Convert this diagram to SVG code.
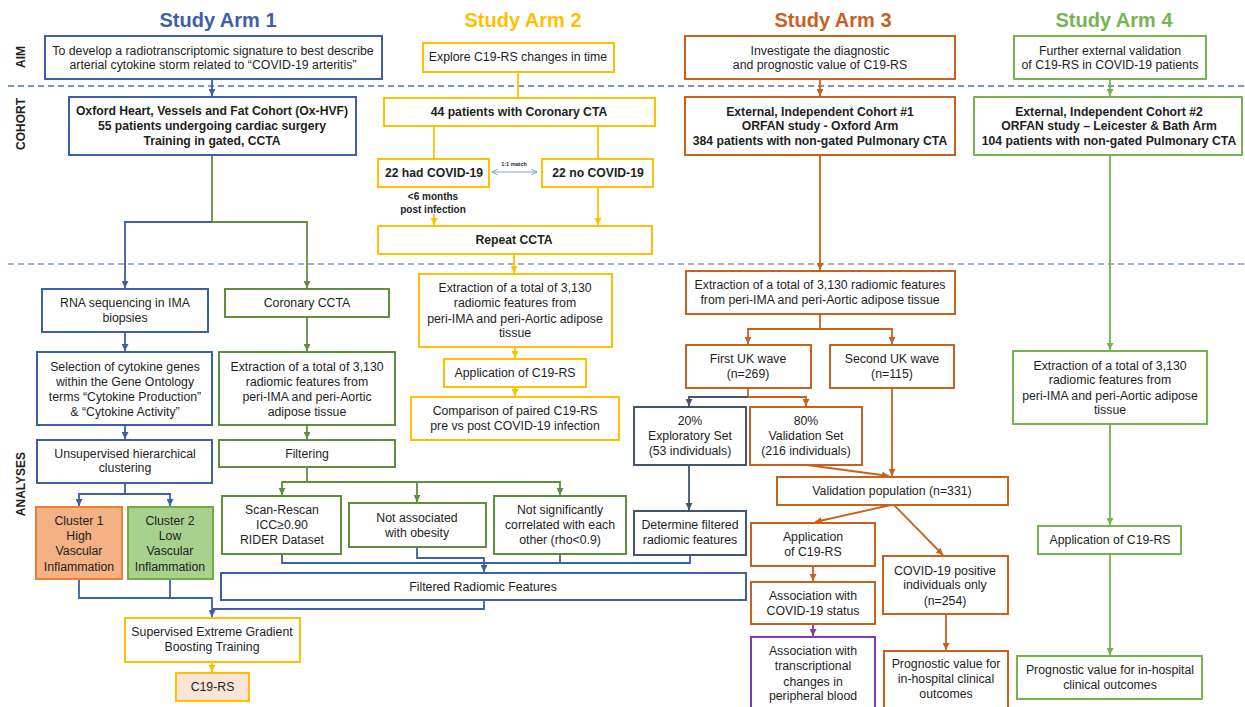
<svg xmlns="http://www.w3.org/2000/svg" width="1245" height="707" viewBox="0 0 1245 707">
<style>
.bx{fill:#fff;stroke-width:2}
.cb{stroke:#3D5FA6}.cg{stroke:#5E8E3E}.cy{stroke:#FFC000}.co{stroke:#C8611E}.cs{stroke:#44546A}.cp{stroke:#7B3FB0}.cl{stroke:#76B451}
.t{font-family:"Liberation Sans",Arial,Helvetica,sans-serif;font-size:12.3px;fill:#1e1e1e;text-anchor:middle}
.tb{font-family:"Liberation Sans",Arial,Helvetica,sans-serif;font-size:12.2px;font-weight:bold;fill:#1e1e1e;text-anchor:middle}
.ti{font-family:"Liberation Sans",Arial,Helvetica,sans-serif;font-size:20px;font-weight:bold;text-anchor:middle}
.side{font-family:"Liberation Sans",Arial,Helvetica,sans-serif;font-size:12px;font-weight:bold;fill:#1e1e1e;text-anchor:middle}
.ln{fill:none;stroke-width:1.8}
</style>
<defs>
<marker id="mb" markerWidth="7" markerHeight="7" refX="7" refY="3.5" orient="auto" markerUnits="userSpaceOnUse"><path d="M0,0 L7,3.5 L0,7z" fill="#3D5FA6"/></marker>
<marker id="mg" markerWidth="7" markerHeight="7" refX="7" refY="3.5" orient="auto" markerUnits="userSpaceOnUse"><path d="M0,0 L7,3.5 L0,7z" fill="#5E8E3E"/></marker>
<marker id="my" markerWidth="7" markerHeight="7" refX="7" refY="3.5" orient="auto" markerUnits="userSpaceOnUse"><path d="M0,0 L7,3.5 L0,7z" fill="#FFC000"/></marker>
<marker id="mo" markerWidth="7" markerHeight="7" refX="7" refY="3.5" orient="auto" markerUnits="userSpaceOnUse"><path d="M0,0 L7,3.5 L0,7z" fill="#C8611E"/></marker>
<marker id="ms" markerWidth="7" markerHeight="7" refX="7" refY="3.5" orient="auto" markerUnits="userSpaceOnUse"><path d="M0,0 L7,3.5 L0,7z" fill="#44546A"/></marker>
<marker id="mp" markerWidth="7" markerHeight="7" refX="7" refY="3.5" orient="auto" markerUnits="userSpaceOnUse"><path d="M0,0 L7,3.5 L0,7z" fill="#7B3FB0"/></marker>
<marker id="ml" markerWidth="7" markerHeight="7" refX="7" refY="3.5" orient="auto" markerUnits="userSpaceOnUse"><path d="M0,0 L7,3.5 L0,7z" fill="#76B451"/></marker>
<marker id="mm" markerWidth="6" markerHeight="6" refX="6" refY="3" orient="auto-start-reverse" markerUnits="userSpaceOnUse"><path d="M0,0 L6,3 L0,6" fill="none" stroke="#7F9FD8" stroke-width="1"/></marker>
</defs>
<rect width="1245" height="707" fill="#fff"/>

<!-- titles -->
<text class="ti" x="218" y="27" fill="#3D5FA6">Study Arm 1</text>
<text class="ti" x="523" y="27" fill="#FFC000">Study Arm 2</text>
<text class="ti" x="833" y="27" fill="#C8611E">Study Arm 3</text>
<text class="ti" x="1114" y="27" fill="#76B451">Study Arm 4</text>

<!-- separators and side labels -->
<line x1="8" y1="86" x2="1245" y2="86" stroke="#4A72C0" stroke-width="1.3" stroke-dasharray="6 4"/>
<line x1="8" y1="264" x2="1245" y2="264" stroke="#8096C0" stroke-width="1.3" stroke-dasharray="6 4"/>
<text class="side" transform="translate(25,57) rotate(-90)">AIM</text>
<text class="side" transform="translate(25,124) rotate(-90)">COHORT</text>
<text class="side" transform="translate(25,484) rotate(-90)">ANALYSES</text>

<!-- connectors -->
<g id="connectors">
<!-- arm 1 -->
<path class="ln cb" d="M212,79 V96" marker-end="url(#mb)"/>
<path class="ln cg" d="M212,155 V222 H307 V288" marker-end="url(#mg)"/>
<path class="ln cb" d="M212,222 H125 V288" marker-end="url(#mb)"/>
<path class="ln cb" d="M125,332 V351" marker-end="url(#mb)"/>
<path class="ln cg" d="M307,317 V351" marker-end="url(#mg)"/>
<path class="ln cb" d="M125,425 V439" marker-end="url(#mb)"/>
<path class="ln cg" d="M307,425 V439" marker-end="url(#mg)"/>
<path class="ln cb" d="M125,483 V494 H79 V506" marker-end="url(#mb)"/>
<path class="ln cb" d="M125,494 H170 V506" marker-end="url(#mb)"/>
<path class="ln cg" d="M307,467 V482 H282 V495" marker-end="url(#mg)"/>
<path class="ln cg" d="M307,482 H560 V495" marker-end="url(#mg)"/>
<path class="ln cg" d="M417,482 V502" marker-end="url(#mg)"/>
<path class="ln cb" d="M282,554 V563 H690 V555"/>
<path class="ln cb" d="M560,554 V563"/>
<path class="ln cb" d="M417,547 V558 H484 V572" marker-end="url(#mb)"/>
<path class="ln cb" d="M484,600 V609 H212"/>
<path class="ln cb" d="M79,579 V598 H212 V617" marker-end="url(#mb)"/>
<path class="ln cb" d="M170,579 V598"/>
<path class="ln cy" d="M212,662 V672" marker-end="url(#my)"/>
<!-- arm 2 -->
<path class="ln cy" d="M518,72 V98"/>
<path class="ln cy" d="M434,126 V159"/>
<path class="ln cy" d="M598,126 V159"/>
<path class="ln cy" d="M434,214 V225" marker-end="url(#my)"/>
<path class="ln cy" d="M598,187 V225" marker-end="url(#my)"/>
<path d="M492,172 H537" fill="none" stroke="#7F9FD8" stroke-width="1" marker-start="url(#mm)" marker-end="url(#mm)"/>
<path class="ln cy" d="M514,254 V273" marker-end="url(#my)"/>
<path class="ln cy" d="M515,347 V358" marker-end="url(#my)"/>
<path class="ln cy" d="M515,387 V396" marker-end="url(#my)"/>
<!-- arm 3 -->
<path class="ln co" d="M820,79 V96" marker-end="url(#mo)"/>
<path class="ln co" d="M820,155 V270" marker-end="url(#mo)"/>
<path class="ln co" d="M820,314 V329 H748 V344" marker-end="url(#mo)"/>
<path class="ln co" d="M820,329 H892 V344" marker-end="url(#mo)"/>
<path class="ln co" d="M748,388 V397 H806 V406" marker-end="url(#mo)"/>
<path class="ln cs" d="M748,397 H689 V406" marker-end="url(#ms)"/>
<path class="ln co" d="M892,388 V476" marker-end="url(#mo)"/>
<path class="ln co" d="M807,465 L889,476" marker-end="url(#mo)"/>
<path class="ln cs" d="M689,465 V510" marker-end="url(#ms)"/>
<path class="ln co" d="M891,505 L815,522" marker-end="url(#mo)"/>
<path class="ln co" d="M894,505 L943,555" marker-end="url(#mo)"/>
<path class="ln co" d="M813,566 V581" marker-end="url(#mo)"/>
<path class="ln cp" d="M813,624 V636" marker-end="url(#mp)"/>
<path class="ln co" d="M946,614 V650" marker-end="url(#mo)"/>
<!-- arm 4 -->
<path class="ln cl" d="M1110,79 V96" marker-end="url(#ml)"/>
<path class="ln cl" d="M1110,155 V350" marker-end="url(#ml)"/>
<path class="ln cl" d="M1110,424 V525" marker-end="url(#ml)"/>
<path class="ln cl" d="M1110,554 V655" marker-end="url(#ml)"/>
</g>

<!-- Arm 1 nodes -->
<g id="a1-aim"><rect class="bx cb" x="45" y="36" width="337" height="43"/>
<text class="t" x="213" y="55">To develop a radiotranscriptomic signature to best describe</text>
<text class="t" x="213" y="69">arterial cytokine storm related to “COVID-19 arteritis”</text></g>
<g id="a1-cohort"><rect class="bx cb" x="69" y="97" width="287" height="58"/>
<text class="tb" x="212" y="115">Oxford Heart, Vessels and Fat Cohort (Ox-HVF)</text>
<text class="tb" x="212" y="130">55 patients undergoing cardiac surgery</text>
<text class="tb" x="212" y="145">Training in gated, CCTA</text></g>
<g id="a1-rna"><rect class="bx cb" x="42" y="289" width="166" height="43"/>
<text class="t" x="125" y="307">RNA sequencing in IMA</text>
<text class="t" x="125" y="322">biopsies</text></g>
<g id="a1-ccta"><rect class="bx cg" x="225" y="289" width="164" height="28"/>
<text class="t" x="307" y="307">Coronary CCTA</text></g>
<g id="a1-select"><rect class="bx cb" x="37" y="352" width="175" height="73"/>
<text class="t" x="125" y="370.5">Selection of cytokine genes</text>
<text class="t" x="125" y="385.5">within the Gene Ontology</text>
<text class="t" x="125" y="400.5">terms “Cytokine Production”</text>
<text class="t" x="125" y="415.5">&amp; “Cytokine Activity”</text></g>
<g id="a1-extract"><rect class="bx cg" x="219" y="352" width="176" height="73"/>
<text class="t" x="307" y="370.5">Extraction of a total of 3,130</text>
<text class="t" x="307" y="385.5">radiomic features from</text>
<text class="t" x="307" y="400.5">peri-IMA and peri-Aortic</text>
<text class="t" x="307" y="415.5">adipose tissue</text></g>
<g id="a1-unsup"><rect class="bx cb" x="37" y="440" width="175" height="43"/>
<text class="t" x="125" y="458">Unsupervised hierarchical</text>
<text class="t" x="125" y="472">clustering</text></g>
<g id="a1-filter"><rect class="bx cg" x="219" y="440" width="176" height="27"/>
<text class="t" x="307" y="458">Filtering</text></g>
<g id="a1-cl1"><rect x="36" y="507" width="86" height="72" fill="#F4B183" stroke="#ED7D31" stroke-width="2"/>
<text class="t" x="79" y="525">Cluster 1</text>
<text class="t" x="79" y="539.5">High</text>
<text class="t" x="79" y="555">Vascular</text>
<text class="t" x="79" y="570.5">Inflammation</text></g>
<g id="a1-cl2"><rect x="128" y="507" width="85" height="72" fill="#A9D18E" stroke="#70AD47" stroke-width="2"/>
<text class="t" x="170" y="525">Cluster 2</text>
<text class="t" x="170" y="539.5">Low</text>
<text class="t" x="170" y="555">Vascular</text>
<text class="t" x="170" y="570.5">Inflammation</text></g>
<g id="a1-scan"><rect class="bx cg" x="222" y="496" width="119" height="58"/>
<text class="t" x="282" y="514">Scan-Rescan</text>
<text class="t" x="282" y="529">ICC≥0.90</text>
<text class="t" x="282" y="544">RIDER Dataset</text></g>
<g id="a1-obes"><rect class="bx cg" x="349" y="503" width="137" height="44"/>
<text class="t" x="417" y="521.5">Not associated</text>
<text class="t" x="417" y="536.5">with obesity</text></g>
<g id="a1-corr"><rect class="bx cg" x="494" y="496" width="132" height="58"/>
<text class="t" x="560" y="514">Not significantly</text>
<text class="t" x="560" y="529">correlated with each</text>
<text class="t" x="560" y="544">other (rho&lt;0.9)</text></g>
<g id="a1-filtered"><rect class="bx cb" x="221" y="573" width="525" height="27"/>
<text class="t" x="483" y="590.5">Filtered Radiomic Features</text></g>
<g id="a1-xgb"><rect class="bx cy" x="125" y="618" width="175" height="44"/>
<text class="t" x="212" y="636">Supervised Extreme Gradient</text>
<text class="t" x="212" y="651">Boosting Training</text></g>
<g id="a1-c19rs"><rect x="176" y="673" width="73" height="28" fill="#FBE5D6" stroke="#FFC000" stroke-width="2"/>
<text class="t" x="212.5" y="691">C19-RS</text></g>

<!-- Arm 2 nodes -->
<g id="a2-aim"><rect class="bx cy" x="423" y="43" width="191" height="29"/>
<text class="t" x="518" y="61">Explore C19-RS changes in time</text></g>
<g id="a2-44"><rect class="bx cy" x="384" y="98" width="271" height="28"/>
<text class="tb" x="519" y="116">44 patients with Coronary CTA</text></g>
<g id="a2-had"><rect class="bx cy" x="378" y="159" width="111" height="28"/>
<text class="tb" x="434" y="177">22 had COVID-19</text></g>
<g id="a2-no"><rect class="bx cy" x="542" y="159" width="111" height="28"/>
<text class="tb" x="598" y="177">22 no COVID-19</text></g>
<g id="a2-match"><text class="tb" x="514" y="166" style="font-size:5.5px">1:1 match</text></g>
<g id="a2-months"><text class="tb" x="433" y="199.5" style="font-size:10px">&lt;6 months</text>
<text class="tb" x="433" y="213" style="font-size:10px">post infection</text></g>
<g id="a2-repeat"><rect class="bx cy" x="378" y="226" width="274" height="28"/>
<text class="tb" x="514" y="244">Repeat CCTA</text></g>
<g id="a2-extract"><rect class="bx cy" x="419" y="274" width="193" height="73"/>
<text class="t" x="515" y="292">Extraction of a total of 3,130</text>
<text class="t" x="515" y="307">radiomic features from</text>
<text class="t" x="515" y="323">peri-IMA and peri-Aortic adipose</text>
<text class="t" x="515" y="337">tissue</text></g>
<g id="a2-apply"><rect class="bx cy" x="444" y="359" width="142" height="28"/>
<text class="t" x="515" y="377">Application of C19-RS</text></g>
<g id="a2-compare"><rect class="bx cy" x="411" y="397" width="208" height="43"/>
<text class="t" x="515" y="415">Comparison of paired C19-RS</text>
<text class="t" x="515" y="430">pre vs post COVID-19 infection</text></g>

<!-- Arm 3 nodes -->
<g id="a3-aim"><rect class="bx co" x="685" y="36" width="270" height="43"/>
<text class="t" x="820" y="54.5">Investigate the diagnostic</text>
<text class="t" x="820" y="68.5">and prognostic value of C19-RS</text></g>
<g id="a3-cohort"><rect class="bx co" x="685" y="97" width="270" height="58"/>
<text class="tb" x="820" y="116">External, Independent Cohort #1</text>
<text class="tb" x="820" y="130">ORFAN study - Oxford Arm</text>
<text class="tb" x="820" y="145">384 patients with non-gated Pulmonary CTA</text></g>
<g id="a3-extract"><rect class="bx co" x="686" y="271" width="269" height="43"/>
<text class="t" x="820" y="289">Extraction of a total of 3,130 radiomic features</text>
<text class="t" x="820" y="304">from peri-IMA and peri-Aortic adipose tissue</text></g>
<g id="a3-first"><rect class="bx co" x="686" y="345" width="125" height="43"/>
<text class="t" x="748" y="363">First UK wave</text>
<text class="t" x="748" y="378">(n=269)</text></g>
<g id="a3-second"><rect class="bx co" x="830" y="345" width="124" height="43"/>
<text class="t" x="892" y="363">Second UK wave</text>
<text class="t" x="892" y="378">(n=115)</text></g>
<g id="a3-20"><rect class="bx cs" x="634" y="407" width="112" height="58"/>
<text class="t" x="690" y="425">20%</text>
<text class="t" x="690" y="439.5">Exploratory Set</text>
<text class="t" x="690" y="455">(53 individuals)</text></g>
<g id="a3-80"><rect class="bx co" x="750" y="407" width="112" height="58"/>
<text class="t" x="806" y="425">80%</text>
<text class="t" x="806" y="439.5">Validation Set</text>
<text class="t" x="806" y="455">(216 individuals)</text></g>
<g id="a3-determine"><rect class="bx cs" x="634" y="511" width="112" height="44"/>
<text class="t" x="690" y="528.5">Determine filtered</text>
<text class="t" x="690" y="543.5">radiomic features</text></g>
<g id="a3-valpop"><rect class="bx co" x="777" y="477" width="231" height="28"/>
<text class="t" x="892" y="495">Validation population (n=331)</text></g>
<g id="a3-apply"><rect class="bx co" x="751" y="523" width="124" height="43"/>
<text class="t" x="813" y="541">Application</text>
<text class="t" x="813" y="556">of C19-RS</text></g>
<g id="a3-assoc"><rect class="bx co" x="751" y="582" width="124" height="42"/>
<text class="t" x="813" y="599.5">Association with</text>
<text class="t" x="813" y="614.5">COVID-19 status</text></g>
<g id="a3-transcr"><rect class="bx cp" x="751" y="637" width="124" height="80"/>
<text class="t" x="813" y="655">Association with</text>
<text class="t" x="813" y="670">transcriptional</text>
<text class="t" x="813" y="686">changes in</text>
<text class="t" x="813" y="700">peripheral blood</text></g>
<g id="a3-pos"><rect class="bx co" x="883" y="556" width="125" height="58"/>
<text class="t" x="945" y="574.5">COVID-19 positive</text>
<text class="t" x="945" y="588.5">individuals only</text>
<text class="t" x="945" y="604.5">(n=254)</text></g>
<g id="a3-prog"><rect class="bx co" x="884" y="651" width="124" height="70"/>
<text class="t" x="946" y="667.5">Prognostic value for</text>
<text class="t" x="946" y="683">in-hospital clinical</text>
<text class="t" x="946" y="698">outcomes</text></g>

<!-- Arm 4 nodes -->
<g id="a4-aim"><rect class="bx cl" x="1014" y="36" width="192" height="43"/>
<text class="t" x="1110" y="54.5">Further external validation</text>
<text class="t" x="1110" y="68.5">of C19-RS in COVID-19 patients</text></g>
<g id="a4-cohort"><rect class="bx cl" x="974" y="97" width="268" height="58"/>
<text class="tb" x="1109" y="116">External, Independent Cohort #2</text>
<text class="tb" x="1109" y="130">ORFAN study – Leicester &amp; Bath Arm</text>
<text class="tb" x="1109" y="145">104 patients with non-gated Pulmonary CTA</text></g>
<g id="a4-extract"><rect class="bx cl" x="1013" y="351" width="194" height="73"/>
<text class="t" x="1110" y="369.5">Extraction of a total of 3,130</text>
<text class="t" x="1110" y="383.5">radiomic features from</text>
<text class="t" x="1110" y="399.5">peri-IMA and peri-Aortic adipose</text>
<text class="t" x="1110" y="414">tissue</text></g>
<g id="a4-apply"><rect class="bx cl" x="1038" y="526" width="143" height="28"/>
<text class="t" x="1110" y="543.5">Application of C19-RS</text></g>
<g id="a4-prog"><rect class="bx cl" x="1017" y="656" width="185" height="43"/>
<text class="t" x="1110" y="673.5">Prognostic value for in-hospital</text>
<text class="t" x="1110" y="688.5">clinical outcomes</text></g>
</svg>
